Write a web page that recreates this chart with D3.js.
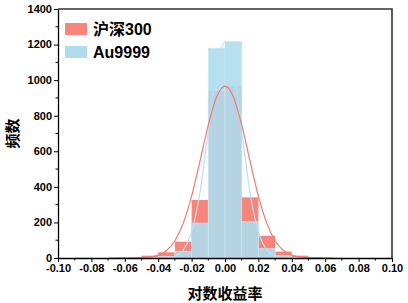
<!DOCTYPE html>
<html>
<head>
<meta charset="utf-8">
<script src="https://cdn.jsdelivr.net/npm/d3@7.9.0/dist/d3.min.js"></script>
<style>
  body { margin: 0; background: #fff; }
  svg { display: block; font-family: "Liberation Sans", Arial, sans-serif; }
</style>
</head>
<body>
<div id="chart"></div>
<script>
// bin left edges (width 0.01)
const binStarts = [-0.09, -0.08, -0.07, -0.06, -0.05, -0.04, -0.03, -0.02, -0.01, 0.00, 0.01, 0.02, 0.03, 0.04, 0.05, 0.06];
const hs300Counts  = [1, 0, 3, 1, 13, 32, 92, 326, 940, 966, 341, 125, 36, 13, 4, 1];
const au9999Counts = [0, 0, 0, 0, 1, 8, 38, 196, 1179, 1216, 204, 52, 14, 3, 1, 0];

// fitted normal curves
const hs300CurveX = [-0.065, -0.06, -0.055, -0.05, -0.045, -0.04, -0.035, -0.03, -0.025, -0.02, -0.015, -0.01, -0.005, 0, 0.005, 0.01, 0.015, 0.02, 0.025, 0.03, 0.035, 0.04, 0.045, 0.05, 0.055, 0.06, 0.065];
const hs300CurveY = [0, 0, 0.5, 1.6, 5.5, 16, 42, 97, 196, 348, 544, 748, 906, 966, 906, 748, 544, 348, 196, 97, 42, 16, 5.5, 1.6, 0.5, 0, 0];
const auCurveX = [-0.045, -0.04, -0.035, -0.03, -0.025, -0.02, -0.015, -0.01, -0.005, 0, 0.005, 0.01, 0.015, 0.02, 0.025, 0.03, 0.035, 0.04, 0.045];
const auCurveY = [0, 0.2, 2, 10, 44, 145, 367, 714, 1064, 1216, 1064, 714, 367, 145, 44, 10, 2, 0.2, 0];

const xTicks = [-0.10, -0.08, -0.06, -0.04, -0.02, 0.00, 0.02, 0.04, 0.06, 0.08, 0.10];
const yTicks = [0, 200, 400, 600, 800, 1000, 1200, 1400];
const seriesNames = ["沪深300", "Au9999"];

const W = 408, H = 303;
const margin = {top: 9, right: 16, bottom: 45, left: 58};
const width = W - margin.left - margin.right;
const height = H - margin.top - margin.bottom;

const redFill = "#f8847a";
const blueFill = "#aedcee";

const svg = d3.select("#chart").append("svg")
    .attr("width", W)
    .attr("height", H);

const g = svg.append("g")
    .attr("transform", `translate(${margin.left},${margin.top})`);

const x = d3.scaleLinear().domain([-0.10, 0.10]).range([0, width]);
const y = d3.scaleLinear().domain([0, 1400]).range([height, 0]);

// red histogram
g.selectAll(".bar-hs")
    .data(binStarts.map((b, i) => ({b, v: hs300Counts[i]})))
    .join("rect")
    .attr("x", d => x(d.b))
    .attr("width", d => x(d.b + 0.01) - x(d.b))
    .attr("y", d => y(d.v))
    .attr("height", d => y(0) - y(d.v))
    .attr("fill", redFill);

// blue histogram on top
g.selectAll(".bar-au")
    .data(binStarts.map((b, i) => ({b, v: au9999Counts[i]})))
    .join("rect")
    .attr("x", d => x(d.b))
    .attr("width", d => x(d.b + 0.01) - x(d.b))
    .attr("y", d => y(d.v))
    .attr("height", d => y(0) - y(d.v))
    .attr("fill", blueFill)
    .attr("fill-opacity", 0.9)
    .attr("stroke", "#c4e8f4")
    .attr("stroke-width", d => d.v > 0 ? 0.8 : 0);

// fit curves
const line = d3.line()
    .x(d => x(d[0]))
    .y(d => y(d[1]))
    .curve(d3.curveMonotoneX);

g.append("path")
    .datum(auCurveX.map((v, i) => [v, auCurveY[i]]))
    .attr("fill", "none")
    .attr("stroke", "#b4e2f2")
    .attr("stroke-width", 1.2)
    .attr("d", line);

g.append("path")
    .datum(hs300CurveX.map((v, i) => [v, hs300CurveY[i]]))
    .attr("fill", "none")
    .attr("stroke", "#f47a70")
    .attr("stroke-width", 1.2)
    .attr("d", line);

// frame top/right
g.append("path")
    .attr("d", `M0,0H${width}V${height}`)
    .attr("fill", "none")
    .attr("stroke", "#333")
    .attr("stroke-width", 1.6);

// minor ticks
g.append("g")
    .selectAll("line")
    .data(d3.range(-0.09, 0.1, 0.02))
    .join("line")
    .attr("x1", d => x(d)).attr("x2", d => x(d))
    .attr("y1", height).attr("y2", height + 2.5)
    .attr("stroke", "#000");
g.append("g")
    .selectAll("line")
    .data(d3.range(100, 1400, 200))
    .join("line")
    .attr("y1", d => y(d)).attr("y2", d => y(d))
    .attr("x1", 0).attr("x2", -2.5)
    .attr("stroke", "#000");

// axes
const xAxis = g.append("g")
    .attr("transform", `translate(0,${height})`)
    .call(d3.axisBottom(x).tickValues(xTicks).tickFormat(d => d3.format(".2f")(d).replace("−", "-")).tickSize(4).tickSizeOuter(0));
const yAxis = g.append("g")
    .call(d3.axisLeft(y).tickValues(yTicks).tickFormat(d3.format("d")).tickSize(4).tickSizeOuter(0));

[xAxis, yAxis].forEach(a => {
  a.select(".domain").attr("stroke", "#000").attr("stroke-width", 1.3);
  a.selectAll(".tick line").attr("stroke", "#000").attr("stroke-width", 1);
  a.selectAll(".tick text")
    .attr("fill", "#000")
    .style("font-size", "11px")
    .style("font-weight", "bold")
    .style("font-family", "'Liberation Sans', Arial, sans-serif");
});
xAxis.selectAll(".tick text").attr("y", 6).attr("dy", "0.75em");
yAxis.selectAll(".tick text").attr("x", -6).attr("dy", "0.3em");

// axis titles
svg.append("text")
    .attr("x", margin.left + width / 2)
    .attr("y", 299)
    .attr("text-anchor", "middle")
    .style("font-family", "'Noto Sans CJK SC', sans-serif")
    .style("font-size", "15px")
    .style("font-weight", "bold")
    .text("对数收益率");

svg.append("text")
    .attr("transform", `translate(18,${margin.top + height / 2}) rotate(-90)`)
    .attr("text-anchor", "middle")
    .style("font-family", "'Noto Sans CJK SC', sans-serif")
    .style("font-size", "15px")
    .style("font-weight", "bold")
    .text("频数");

// legend
const legend = svg.append("g").attr("transform", "translate(65,23)");
[redFill, blueFill].forEach((c, i) => {
  legend.append("rect")
      .attr("x", 0).attr("y", i * 23)
      .attr("width", 22).attr("height", 12)
      .attr("fill", c);
  legend.append("text")
      .attr("x", 28).attr("y", i * 23 + 6)
      .attr("dy", "0.36em")
      .style("font-family", "'Liberation Sans', 'Noto Sans CJK SC', sans-serif")
      .style("font-size", "16px")
      .style("font-weight", "bold")
      .text(seriesNames[i]);
});
</script>
</body>
</html>
